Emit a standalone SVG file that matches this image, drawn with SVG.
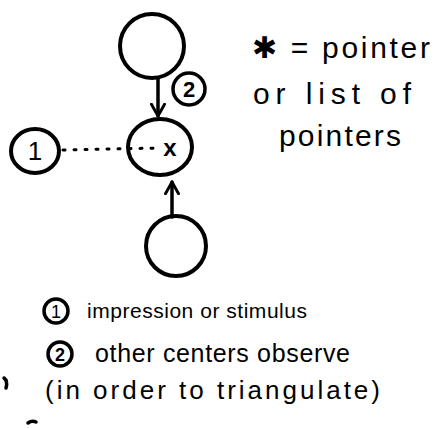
<svg xmlns="http://www.w3.org/2000/svg" width="445" height="428" viewBox="0 0 445 428">
<style>
.n{fill:none;stroke:#000;stroke-width:4}
.c{fill:none;stroke:#000;stroke-width:3.5}
.t{font-family:"Liberation Sans",Arial,sans-serif;fill:#000}
.e{stroke:#000;stroke-width:3.5;fill:none;stroke-linecap:round}
.d{stroke:#000;stroke-width:3;fill:none;stroke-dasharray:2 9;stroke-linecap:round}
</style>
<defs>
<marker id="ah" viewBox="0 0 12 12" refX="10" refY="6" markerWidth="4.5" markerHeight="4.5" orient="auto-start-reverse" markerUnits="strokeWidth">
<path d="M1,1 L10,6 L1,11" fill="none" stroke="#000" stroke-width="2.2" stroke-linecap="round" stroke-linejoin="round"/>
</marker>
</defs>
<rect width="445" height="428" fill="#fff"/>
<g id="connectors">
<line class="e" x1="158" y1="79" x2="158" y2="116" marker-end="url(#ah)"/>
<line class="e" x1="172" y1="217" x2="172" y2="182" marker-end="url(#ah)"/>
<line class="d" x1="63" y1="150" x2="160" y2="148"/>
</g>
<g id="top-center"><circle class="n" cx="152" cy="46" r="32"/></g>
<g id="label-2"><circle class="c" cx="189" cy="89" r="16"/><text class="t" x="189" y="97" font-size="22" text-anchor="middle" font-weight="bold">2</text></g>
<g id="center"><ellipse class="n" cx="160" cy="147" rx="32" ry="28"/><text class="t" x="170" y="156" font-size="24" text-anchor="middle" font-weight="bold">x</text></g>
<g id="stimulus"><ellipse class="n" cx="35" cy="151" rx="24" ry="22"/><text class="t" x="35" y="160" font-size="26" text-anchor="middle">1</text></g>
<g id="bottom-center"><circle class="n" cx="176" cy="246" r="30"/></g>
<g id="legend">
<text class="t" x="252" y="58" font-size="30" textLength="178" lengthAdjust="spacing">✱ = pointer</text>
<text class="t" x="253" y="104" font-size="30" textLength="158" lengthAdjust="spacing">or list of</text>
<text class="t" x="279" y="146" font-size="30" textLength="122" lengthAdjust="spacing">pointers</text>
</g>
<g id="notes">
<circle class="c" cx="56" cy="311" r="12"/><text class="t" x="56" y="318" font-size="18" text-anchor="middle">1</text>
<text class="t" x="87" y="318" font-size="21" textLength="220" lengthAdjust="spacing">impression or stimulus</text>
<circle class="c" cx="60" cy="354" r="12"/><text class="t" x="60" y="361" font-size="18" text-anchor="middle" font-weight="bold">2</text>
<text class="t" x="95" y="362" font-size="25" textLength="255" lengthAdjust="spacing">other centers observe</text>
<text class="t" x="45" y="399" font-size="26" textLength="335" lengthAdjust="spacing">(in order to triangulate)</text>
</g>
<path d="M4,378 Q8,381 6,388" class="e" stroke-width="2"/>
<path d="M28,423 Q32,420 36,422" class="e" stroke-width="2"/>
</svg>
